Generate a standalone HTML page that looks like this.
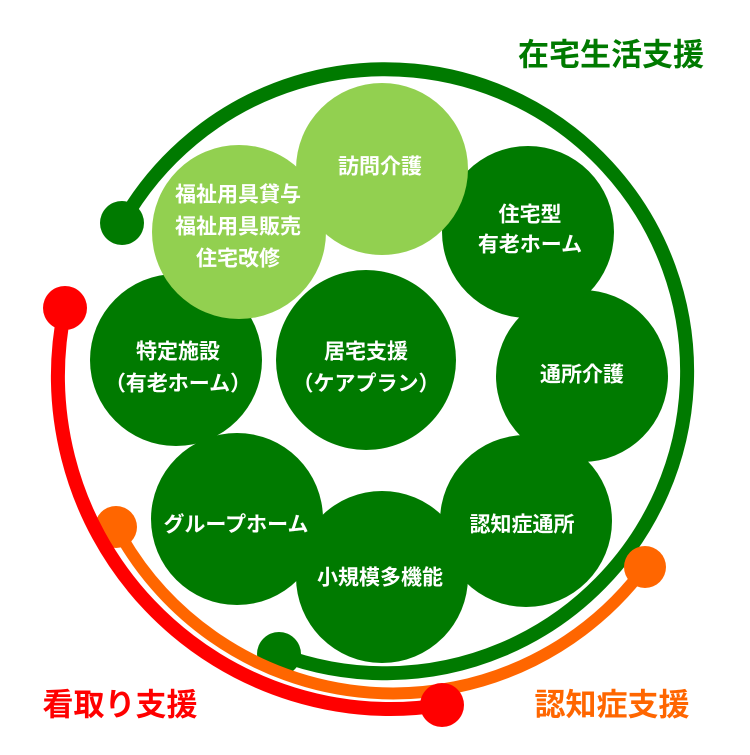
<!DOCTYPE html>
<html><head><meta charset="utf-8"><style>
html,body{margin:0;padding:0;background:#fff}
svg text{font-family:"Liberation Sans","Noto Sans CJK JP",sans-serif;font-weight:bold;text-anchor:middle;dominant-baseline:central}
</style></head><body>
<svg width="750" height="750" viewBox="0 0 750 750" xmlns="http://www.w3.org/2000/svg">
<g fill="#007A00">
<circle cx="176" cy="360" r="86"/>
<circle cx="582" cy="376" r="86"/>
<circle cx="528" cy="232" r="86"/>
<circle cx="526" cy="521" r="86"/>
<circle cx="237" cy="519" r="86"/>
<circle cx="382" cy="577" r="86"/>
<circle cx="366" cy="360" r="90"/>
</g>
<g fill="#92D050">
<circle cx="382" cy="169" r="86"/>
<circle cx="239" cy="232" r="87"/>
</g>
<path d="M122 223 A302 302 0 1 1 279 654" fill="none" stroke="#007A00" stroke-width="14"/>
<circle cx="122" cy="223" r="22" fill="#007A00"/>
<circle cx="279" cy="654" r="22" fill="#007A00"/>
<path d="M116 527 A314 314 0 0 0 645 567" fill="none" stroke="#FF6600" stroke-width="12"/>
<circle cx="116" cy="527" r="21" fill="#FF6600"/>
<circle cx="645" cy="567" r="21" fill="#FF6600"/>
<path d="M65 308 A333 333 0 0 0 442 705" fill="none" stroke="#FF0000" stroke-width="14"/>
<circle cx="65" cy="308" r="22" fill="#FF0000"/>
<circle cx="442" cy="705" r="22" fill="#FF0000"/>
<g fill="#fff" font-size="21">
<text x="380" y="167">訪問介護</text>
<text x="238" y="195">福祉用具貸与</text>
<text x="238" y="227">福祉用具販売</text>
<text x="238" y="259">住宅改修</text>
<text x="530" y="215">住宅型</text>
<text x="530" y="245">有老ホーム</text>
<text x="366" y="352">居宅支援</text>
<text x="366" y="384">（ケアプラン）</text>
<text x="178" y="352">特定施設</text>
<text x="178" y="384">（有老ホーム）</text>
<text x="582" y="375">通所介護</text>
<text x="522" y="525">認知症通所</text>
<text x="236" y="525">グループホーム</text>
<text x="380" y="578">小規模多機能</text>
</g>
<text x="611" y="55" font-size="31" fill="#007A00">在宅生活支援</text>
<text x="120" y="705" font-size="31" fill="#FF0000">看取り支援</text>
<text x="612" y="705" font-size="31" fill="#FF6600">認知症支援</text>
</svg>
</body></html>
